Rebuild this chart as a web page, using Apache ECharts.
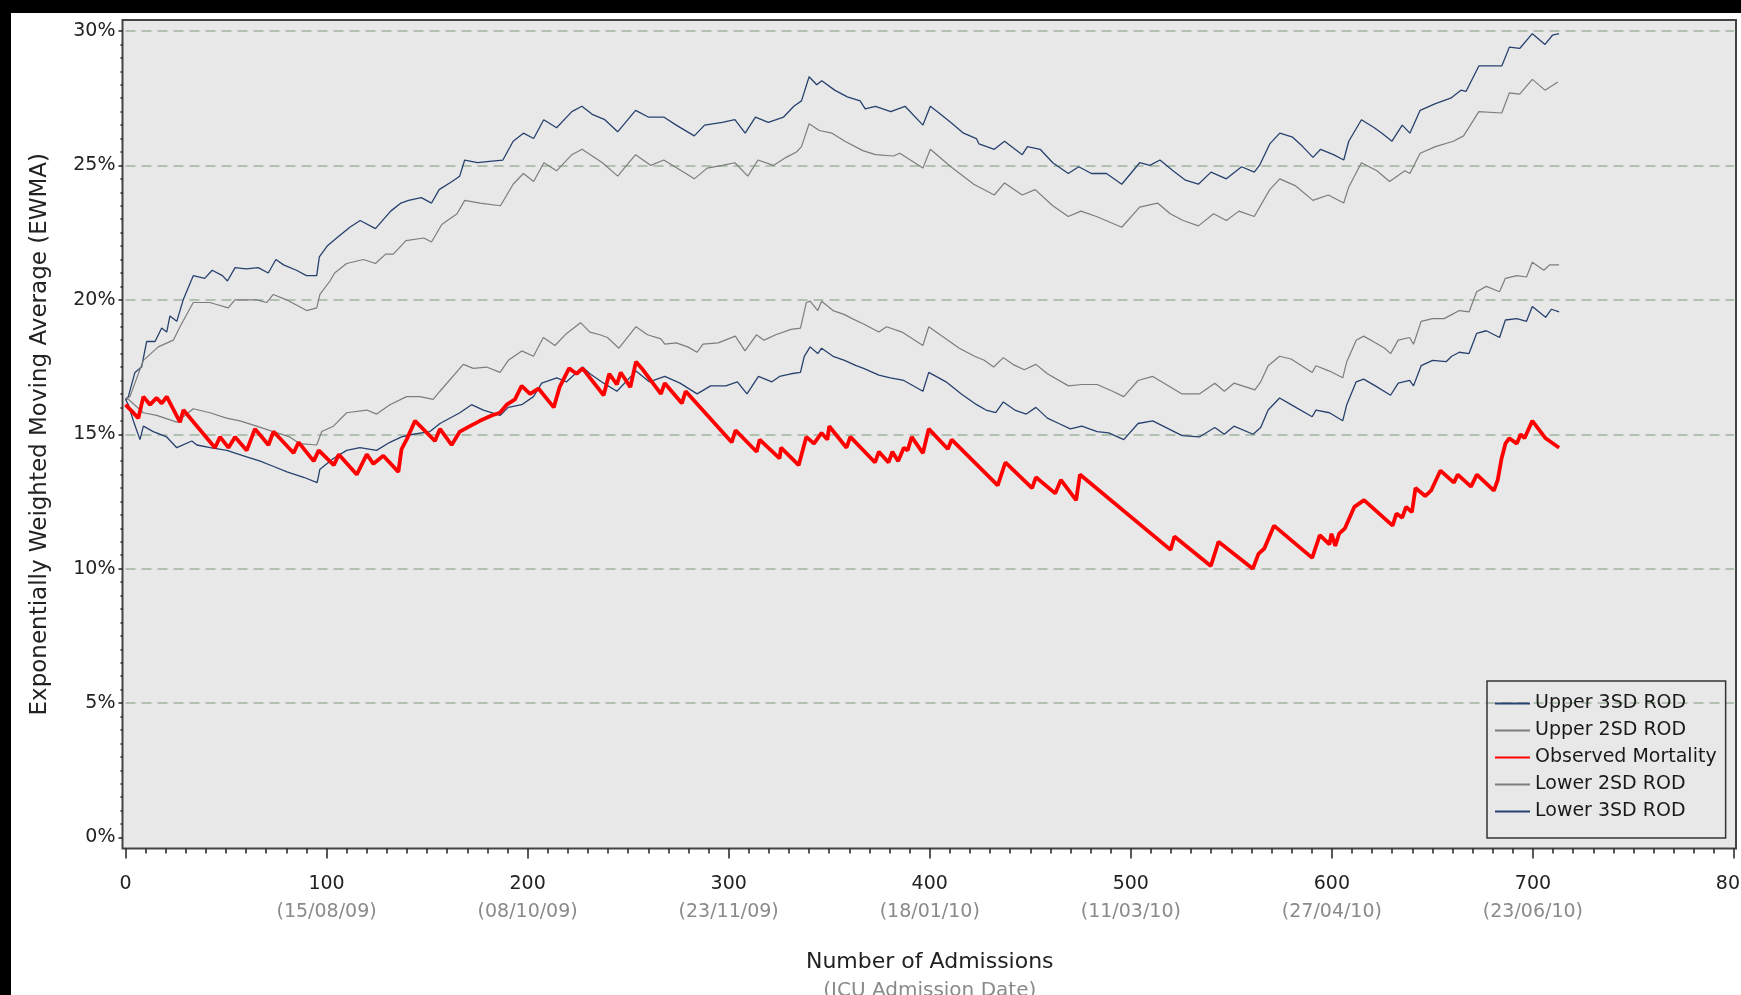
<!DOCTYPE html>
<html>
<head>
<meta charset="utf-8">
<title>EWMA observed mortality</title>
<script src="https://cdn.jsdelivr.net/npm/echarts@6.0.0/dist/echarts.min.js"></script>
<style>
  html, body { margin: 0; padding: 0; background: #000; }
  #wrap { position: relative; width: 1741px; height: 995px; background: #000; overflow: hidden; }
  #panel { position: absolute; left: 11px; top: 13px; width: 1730px; height: 982px; background: #fff; }
  #chart { position: absolute; left: 0; top: 0; width: 1741px; height: 995px; }
</style>
</head>
<body>
<div id="wrap">
  <div id="panel"></div>
  <div id="chart"></div>
</div>
<script>
// x tick labels (admission number + date below)
const xTicks = [0, 100, 200, 300, 400, 500, 600, 700, 800]
const xTickDates = ['', '(15/08/09)', '(08/10/09)', '(23/11/09)', '(18/01/10)', '(11/03/10)', '(27/04/10)', '(23/06/10)', '']

const seriesNames = ['Upper 3SD ROD', 'Upper 2SD ROD', 'Observed Mortality', 'Lower 2SD ROD', 'Lower 3SD ROD']

// Upper 3SD ROD
const upper3X = [0, 1.4, 4.7, 8, 10.5, 14.7, 18, 20.5, 22.1, 25.5, 28.7, 33.7, 39.4, 43.1, 48.2, 50.7, 54.5, 60, 66, 71, 74.8, 78.6, 85, 90, 95.1, 96.4, 100.3, 105, 111.6, 116.7, 124.3, 131.9, 137, 140.8, 147.1, 152.2, 156, 162.4, 166.2, 168.7, 175.1, 181, 187.7, 192.8, 197.9, 203, 208, 214.4, 222, 227, 232.1, 238.4, 244.8, 253.7, 260, 267.7, 273.9, 282.9, 288, 296.8, 303.1, 308.2, 313.3, 319.7, 327.3, 332.4, 336.2, 340, 343.8, 346.3, 352.7, 359, 365.4, 367.9, 373, 380.6, 387.7, 396.6, 400.3, 405.4, 410.5, 416.8, 423.2, 424.5, 432.1, 437.2, 446, 448.6, 454.9, 461.2, 468.9, 474.1, 480.4, 487.9, 495.5, 504.4, 509.5, 514.5, 521, 527.2, 533.6, 539.9, 547.5, 555.1, 561.4, 564, 569.1, 574.1, 580.5, 585.5, 590.6, 594.4, 600.8, 605.9, 608.4, 614.7, 621.1, 624.9, 629.9, 635, 638.8, 643.9, 651.5, 659.1, 664.2, 666.7, 673.1, 676.9, 684.5, 688.3, 693.4, 699.7, 706, 709.8, 713]
const upper3Y = [16.3, 16.4, 17.3, 17.5, 18.45, 18.45, 18.95, 18.8, 19.4, 19.2, 20.0, 20.9, 20.8, 21.1, 20.9, 20.7, 21.2, 21.15, 21.2, 21.0, 21.5, 21.3, 21.1, 20.9, 20.9, 21.6, 22.0, 22.3, 22.7, 22.95, 22.65, 23.3, 23.6, 23.7, 23.8, 23.6, 24.1, 24.4, 24.6, 25.2, 25.1, 25.15, 25.2, 25.9, 26.2, 26.0, 26.7, 26.4, 27.0, 27.2, 26.9, 26.7, 26.25, 27.05, 26.8, 26.8, 26.5, 26.1, 26.5, 26.6, 26.7, 26.2, 26.8, 26.6, 26.8, 27.2, 27.4, 28.3, 28.0, 28.15, 27.8, 27.55, 27.4, 27.1, 27.2, 27.0, 27.2, 26.5, 27.2, 26.9, 26.6, 26.2, 26.0, 25.8, 25.6, 25.9, 25.4, 25.7, 25.6, 25.1, 24.7, 24.95, 24.7, 24.7, 24.3, 25.1, 25.0, 25.2, 24.8, 24.45, 24.3, 24.75, 24.5, 24.95, 24.75, 25.0, 25.8, 26.2, 26.05, 25.7, 25.3, 25.6, 25.4, 25.2, 25.9, 26.7, 26.4, 26.2, 25.9, 26.5, 26.2, 27.05, 27.3, 27.5, 27.8, 27.75, 28.7, 28.7, 28.7, 29.4, 29.35, 29.9, 29.5, 29.85, 29.9]

// Upper 2SD ROD
const upper2X = [0, 2.2, 8.9, 16.3, 23.8, 27.1, 33.7, 41.9, 51.1, 54.4, 65.2, 70.2, 73.5, 80.1, 90.1, 95.1, 96.7, 101.7, 104, 110, 118.3, 124.3, 129.4, 133.2, 139.5, 148.4, 152.2, 157.3, 164.9, 168.7, 176.3, 186.5, 192.8, 197.9, 203, 208.1, 214.4, 222, 227.1, 237.2, 244.8, 253.7, 261.3, 267.7, 276.5, 282.9, 289.3, 296.8, 303.1, 309.5, 314.6, 322.2, 328.6, 333.7, 336.2, 340, 345.1, 351.4, 357.8, 366.7, 373, 381.9, 385.1, 396.6, 400.3, 410.5, 421.9, 432.1, 437.2, 446, 452.4, 461.2, 468.9, 475.2, 482.9, 495.5, 504.4, 513.3, 519.6, 526, 533.6, 541.2, 547.5, 553.8, 561.4, 569.1, 574.1, 581.7, 590.6, 598.2, 605.9, 608.4, 614.7, 622.4, 628.7, 636.3, 638.8, 643.9, 651.5, 660.4, 665.5, 673.1, 684.5, 688.3, 693.4, 699.7, 706, 712.4]
const upper2Y = [16.3, 16.4, 17.75, 18.25, 18.5, 19.0, 19.9, 19.9, 19.7, 20.0, 20.0, 19.9, 20.2, 20.0, 19.6, 19.7, 20.2, 20.7, 21.0, 21.35, 21.5, 21.35, 21.7, 21.7, 22.2, 22.3, 22.15, 22.8, 23.2, 23.7, 23.6, 23.5, 24.3, 24.7, 24.4, 25.1, 24.8, 25.4, 25.6, 25.1, 24.6, 25.4, 25.0, 25.2, 24.8, 24.5, 24.9, 25.0, 25.1, 24.6, 25.2, 25.0, 25.3, 25.5, 25.7, 26.55, 26.3, 26.2, 25.9, 25.55, 25.4, 25.35, 25.45, 24.9, 25.6, 24.95, 24.3, 23.9, 24.35, 23.9, 24.1, 23.5, 23.1, 23.3, 23.1, 22.7, 23.45, 23.6, 23.2, 22.95, 22.75, 23.2, 22.95, 23.3, 23.1, 24.1, 24.5, 24.25, 23.7, 23.9, 23.6, 24.2, 25.1, 24.8, 24.4, 24.8, 24.7, 25.45, 25.7, 25.9, 26.1, 27.0, 26.95, 27.7, 27.65, 28.2, 27.8, 28.1]

// Observed Mortality
const observedX = [0, 6.4, 8.9, 12.2, 15.5, 18, 20.5, 27.1, 28.8, 44.5, 47, 51.2, 54.5, 60.3, 64.4, 71.1, 73.6, 83.6, 86.1, 93.6, 96.1, 103.6, 106.1, 115, 120, 123.3, 128.2, 135.7, 137.3, 139.8, 144, 153.9, 156.4, 162.2, 166.3, 171.3, 176.3, 182.1, 186.2, 189.6, 193.7, 197, 201.2, 205.4, 213, 215.9, 220.6, 224.4, 227.3, 237.8, 240.6, 244.4, 246.3, 251.1, 253.9, 256.8, 266.3, 268.2, 276.7, 278.6, 301.5, 303.4, 313.9, 315.4, 325.3, 326, 334.8, 338.6, 342.4, 346.2, 349.1, 350, 358.6, 360.5, 372.8, 374.7, 379.5, 381.4, 384.3, 387.1, 389, 391, 396.6, 399.5, 409, 410.9, 433.8, 437.6, 450.9, 452.8, 462.4, 465.2, 472.8, 474.7, 519.8, 521.7, 539.8, 543.6, 560.7, 563.5, 566.4, 571.2, 590.2, 594, 598.8, 599.8, 601.7, 603.6, 606.5, 611.2, 616, 630.2, 632.1, 635, 636.9, 639.8, 641.6, 646.4, 649.3, 654, 660.7, 662.6, 669.2, 672.1, 680.6, 682.5, 684.4, 686.3, 688.2, 692, 693.9, 695.8, 699.7, 706.3, 713]
const observedY = [16.1, 15.6, 16.4, 16.1, 16.35, 16.15, 16.4, 15.45, 15.9, 14.5, 14.9, 14.5, 14.9, 14.4, 15.2, 14.6, 15.1, 14.3, 14.7, 14.0, 14.4, 13.85, 14.25, 13.5, 14.25, 13.9, 14.2, 13.6, 14.45, 14.8, 15.5, 14.75, 15.2, 14.6, 15.1, 15.3, 15.5, 15.7, 15.8, 16.1, 16.3, 16.8, 16.5, 16.7, 16.0, 16.75, 17.45, 17.25, 17.45, 16.45, 17.25, 16.85, 17.3, 16.75, 17.7, 17.45, 16.5, 16.9, 16.15, 16.6, 14.7, 15.15, 14.35, 14.8, 14.1, 14.5, 13.85, 14.9, 14.65, 15.05, 14.8, 15.3, 14.5, 14.9, 13.95, 14.35, 13.95, 14.35, 14.0, 14.5, 14.4, 14.9, 14.3, 15.2, 14.45, 14.8, 13.1, 13.95, 13.0, 13.4, 12.8, 13.3, 12.55, 13.5, 10.7, 11.2, 10.1, 11.0, 10.0, 10.55, 10.75, 11.6, 10.4, 11.25, 10.9, 11.3, 10.85, 11.3, 11.5, 12.3, 12.55, 11.6, 12.05, 11.9, 12.3, 12.1, 13.0, 12.7, 12.9, 13.65, 13.2, 13.5, 13.05, 13.5, 12.9, 13.3, 14.1, 14.65, 14.85, 14.65, 15.0, 14.85, 15.5, 14.85, 14.5]

// Lower 2SD ROD
const lower2X = [0, 1.4, 8.9, 15.5, 25.5, 33.7, 42, 50.2, 56.9, 65.2, 73.5, 81.7, 86.8, 95.1, 97.6, 103.4, 110, 120, 124.9, 131.5, 139.8, 146.4, 153, 156.4, 168, 173, 179.6, 186.3, 190.4, 197.1, 202.9, 207.8, 213.6, 219.4, 226.3, 231, 235.9, 239.7, 245.4, 253.9, 259.6, 266.3, 268.2, 273.9, 279.6, 284.3, 287.2, 294.8, 303.3, 308.1, 313.8, 317.6, 323.4, 331, 335.7, 338.6, 340.5, 344.3, 346.2, 351.9, 357.6, 361.4, 367.1, 374.7, 378.5, 386.2, 396.6, 399.5, 407.1, 414.7, 422.3, 427.1, 431.8, 436.6, 441.3, 447, 452.8, 458.5, 469, 475.6, 483.3, 490.9, 496.5, 503.6, 510.9, 525.5, 534.1, 541.8, 546.5, 551.3, 561.7, 564.6, 568.3, 574, 579.7, 590.2, 592.1, 598.8, 605.4, 607.4, 612.1, 615.8, 621.6, 626.3, 629.2, 633, 638.7, 640.6, 644.4, 650.1, 655.8, 659.6, 663.4, 668.2, 672, 676.8, 683.4, 686.3, 692, 696.8, 699.7, 705.4, 708.3, 713]
const lower2Y = [16.3, 16.3, 15.8, 15.7, 15.45, 15.95, 15.8, 15.6, 15.5, 15.3, 15.1, 14.9, 14.65, 14.6, 15.1, 15.3, 15.8, 15.9, 15.75, 16.1, 16.4, 16.4, 16.3, 16.6, 17.6, 17.45, 17.5, 17.3, 17.75, 18.1, 17.9, 18.6, 18.3, 18.75, 19.15, 18.8, 18.7, 18.6, 18.2, 19.0, 18.7, 18.55, 18.35, 18.4, 18.25, 18.05, 18.35, 18.4, 18.65, 18.1, 18.7, 18.5, 18.7, 18.9, 18.95, 19.9, 19.95, 19.6, 19.95, 19.6, 19.45, 19.3, 19.1, 18.8, 19.0, 18.8, 18.3, 19.0, 18.6, 18.2, 17.9, 17.75, 17.5, 17.85, 17.6, 17.4, 17.6, 17.25, 16.8, 16.85, 16.85, 16.6, 16.4, 17.0, 17.15, 16.5, 16.5, 16.9, 16.6, 16.9, 16.65, 16.95, 17.55, 17.9, 17.8, 17.3, 17.55, 17.35, 17.1, 17.7, 18.5, 18.65, 18.4, 18.2, 18.0, 18.5, 18.6, 18.35, 19.2, 19.3, 19.3, 19.45, 19.6, 19.55, 20.3, 20.5, 20.3, 20.8, 20.9, 20.85, 21.4, 21.1, 21.3, 21.3]

// Lower 3SD ROD
const lower3X = [0, 1.4, 3.9, 7.2, 8.9, 13.8, 20.5, 25.5, 33, 35.5, 42.1, 50.4, 58.7, 67, 73.7, 80.3, 88.6, 95.3, 96.7, 103.4, 110, 116.6, 124.9, 131.5, 137.3, 143.1, 151.4, 156.4, 166.3, 172.1, 178, 186.3, 190.4, 197.1, 202.9, 207, 214.5, 219.4, 227.3, 231, 237.8, 244.4, 253.9, 260.5, 268.2, 275.8, 284.3, 291, 298.6, 304.3, 309.1, 314.8, 321.5, 325.3, 331, 335.7, 337.6, 340.5, 344.3, 346.2, 351.9, 357.6, 363.4, 367.1, 374.7, 380.4, 387.1, 396.6, 399.5, 408.1, 415.7, 423.3, 428, 432.8, 436.6, 442.3, 448, 452.8, 458.5, 464.2, 469.9, 475.6, 483.3, 489, 496.5, 503.6, 510.9, 525.5, 534.1, 541.8, 546.5, 551.3, 560.8, 564.6, 568.3, 574, 579.7, 590.2, 592.1, 598.8, 605.4, 607.4, 612.1, 615.8, 621.6, 629.2, 633, 638.7, 640.6, 644.4, 650.1, 656.8, 659.6, 663.4, 668.2, 672, 676.8, 683.4, 686.3, 692, 696.8, 699.7, 706.3, 709.2, 713]
const lower3Y = [16.3, 16.1, 15.5, 14.8, 15.3, 15.1, 14.9, 14.5, 14.75, 14.6, 14.5, 14.4, 14.2, 14.0, 13.8, 13.6, 13.4, 13.2, 13.7, 14.1, 14.4, 14.5, 14.4, 14.7, 14.9, 15.0, 15.1, 15.4, 15.8, 16.1, 15.9, 15.7, 16.0, 16.1, 16.4, 16.9, 17.1, 16.95, 17.5, 17.25, 16.9, 16.6, 17.35, 16.95, 17.15, 16.9, 16.5, 16.8, 16.8, 16.95, 16.5, 17.15, 16.95, 17.15, 17.25, 17.3, 17.9, 18.25, 18.0, 18.2, 17.9, 17.75, 17.55, 17.45, 17.2, 17.1, 17.0, 16.6, 17.3, 16.95, 16.5, 16.1, 15.9, 15.8, 16.2, 15.9, 15.75, 16.0, 15.6, 15.4, 15.2, 15.3, 15.1, 15.05, 14.8, 15.4, 15.5, 14.95, 14.9, 15.25, 15.0, 15.3, 15.0, 15.25, 15.9, 16.35, 16.1, 15.65, 15.9, 15.8, 15.5, 16.1, 16.95, 17.05, 16.8, 16.45, 16.9, 17.0, 16.8, 17.55, 17.75, 17.7, 17.9, 18.05, 18.0, 18.75, 18.85, 18.6, 19.25, 19.3, 19.2, 19.75, 19.35, 19.65, 19.55]

const FONT = '"DejaVu Sans", "Liberation Sans", Arial, sans-serif'
const navy = '#27416e'
const grey = '#7d7d7d'
const red = '#ff0000'

function pairs(xs, ys) {
  return xs.map((x, i) => [x, ys[i]])
}

function lineSeries(name, xs, ys, color, width, z) {
  return {
    name: name,
    type: 'line',
    xAxisIndex: 0,
    yAxisIndex: 0,
    showSymbol: false,
    symbol: 'none',
    z: z,
    lineStyle: { color: color, width: width },
    itemStyle: { color: color },
    data: pairs(xs, ys)
  }
}

const chart = echarts.init(document.getElementById('chart'), null, { renderer: 'canvas', devicePixelRatio: 1 })

chart.setOption({
  animation: false,
  backgroundColor: 'transparent',
  textStyle: { fontFamily: FONT },
  grid: [
    // data area: 0..800 by 0..30%
    { left: 125.5, right: 7, top: 31, bottom: 157.5, show: false, outerBoundsMode: 'none', containLabel: false },
    // frame with grey wall
    { left: 122.5, right: 5, top: 20, bottom: 146.5, show: true, z: -1, outerBoundsMode: 'none', containLabel: false,
      backgroundColor: '#e8e8e8', borderColor: '#444', borderWidth: 2 }
  ],
  legend: {
    data: seriesNames,
    orient: 'vertical',
    left: 1487,
    top: 681,
    padding: [13, 9, 17, 8],
    itemGap: 8,
    itemWidth: 35,
    itemHeight: 2,
    icon: 'rect',
    borderColor: '#333',
    borderWidth: 1.5,
    backgroundColor: 'transparent',
    textStyle: { fontFamily: FONT, fontSize: 19, lineHeight: 19, color: '#1a1a1a' }
  },
  xAxis: [
    {
      type: 'value',
      gridIndex: 0,
      position: 'bottom',
      min: 0,
      max: 800,
      interval: 100,
      offset: 11,
      name: 'Number of Admissions\n{s|(ICU Admission Date)}',
      nameLocation: 'middle',
      nameGap: 100,
      nameTextStyle: {
        fontFamily: FONT, fontSize: 22, lineHeight: 28, color: '#222',
        rich: { s: { fontFamily: FONT, fontSize: 20, lineHeight: 28, color: '#8a8a8a' } }
      },
      axisLine: { show: false, onZero: false },
      axisTick: { show: true, inside: false, length: 10, lineStyle: { color: '#222', width: 1.5 } },
      minorTick: { show: true, splitNumber: 10, length: 5, lineStyle: { color: '#222', width: 1.5 } },
      splitLine: { show: false },
      axisLabel: {
        margin: 22,
        fontFamily: FONT,
        fontSize: 19,
        lineHeight: 28,
        color: '#222',
        showMinLabel: true,
        showMaxLabel: true,
        hideOverlap: false,
        formatter: function (v) {
          const d = xTickDates[xTicks.indexOf(v)]
          return d ? v + '\n{d|' + d + '}' : String(v)
        },
        rich: { d: { fontFamily: FONT, fontSize: 19, lineHeight: 28, color: '#8a8a8a' } }
      }
    },
    { type: 'value', gridIndex: 1, min: 0, max: 1, show: false }
  ],
  yAxis: [
    {
      type: 'value',
      gridIndex: 0,
      position: 'left',
      min: 0,
      max: 30,
      interval: 5,
      offset: 3,
      name: 'Exponentially Weighted Moving Average (EWMA)',
      nameLocation: 'middle',
      nameGap: 71,
      nameTextStyle: { fontFamily: FONT, fontSize: 23, color: '#222' },
      axisLine: { show: false, onZero: false },
      axisTick: { show: true, inside: false, length: 4, lineStyle: { color: '#222', width: 1.5 } },
      minorTick: { show: true, splitNumber: 10, length: 2, lineStyle: { color: '#222', width: 1.5 } },
      splitLine: {
        show: true,
        showMinLine: false,
        lineStyle: { color: '#9fb29f', width: 1.5, type: [10, 6] }
      },
      axisLabel: { margin: 7, fontFamily: FONT, fontSize: 19, color: '#222', formatter: '{value}%' }
    },
    { type: 'value', gridIndex: 1, min: 0, max: 1, show: false }
  ],
  series: [
    lineSeries(seriesNames[0], upper3X, upper3Y, navy, 1.3, 3),
    lineSeries(seriesNames[1], upper2X, upper2Y, grey, 1.2, 3),
    lineSeries(seriesNames[2], observedX, observedY, red, 3.8, 5),
    lineSeries(seriesNames[3], lower2X, lower2Y, grey, 1.2, 3),
    lineSeries(seriesNames[4], lower3X, lower3Y, navy, 1.3, 4)
  ]
})
</script>
</body>
</html>
